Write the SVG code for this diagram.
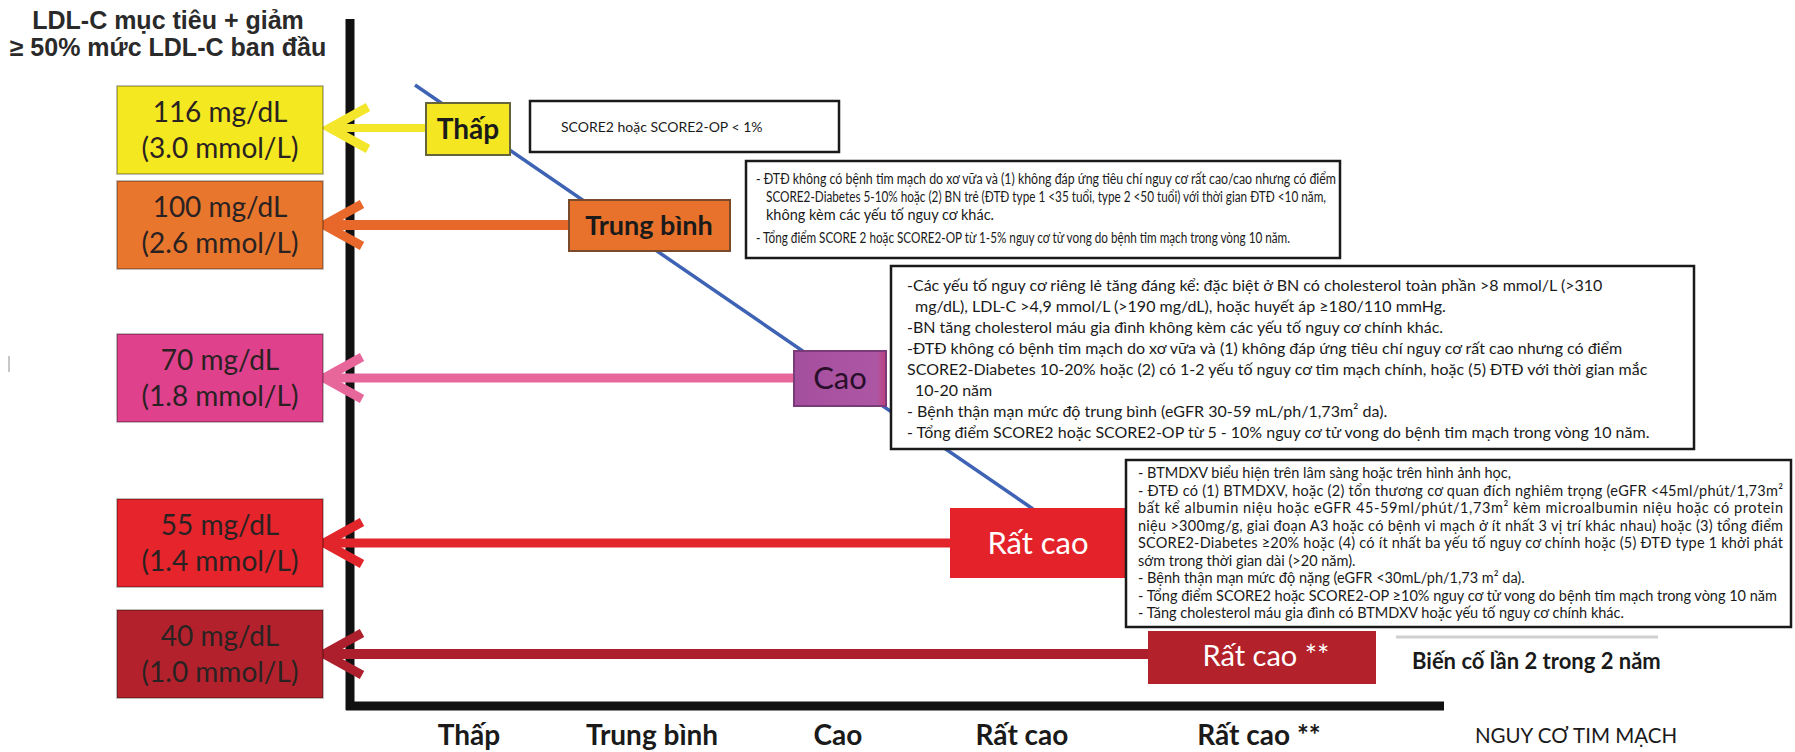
<svg xmlns="http://www.w3.org/2000/svg" xmlns:xlink="http://www.w3.org/1999/xlink" width="1795" height="752" viewBox="0 0 1795 752">
  <style>
    .title { font-family: "Liberation Sans", Arial, sans-serif; font-weight: bold; font-size: 25px; fill: #2a2a2a; text-anchor: middle; }
    .axis { stroke: #111; stroke-width: 9; fill: none; }
    .val { font-family: Lato, "Open Sans", sans-serif; font-size: 28px; fill: #2a2222; text-anchor: middle; }
    .valbox { stroke: rgba(0,0,0,0.35); stroke-width: 1.5; }
    .risk { font-family: Lato, "Open Sans", sans-serif; text-anchor: middle; }
    .desc { fill: #fff; stroke: #1a1a1a; stroke-width: 2.5; }
    .small { font-family: Lato, "Open Sans", sans-serif; fill: #1a1a1a; }
    .xlab { font-family: Lato, "Open Sans", sans-serif; font-weight: bold; font-size: 28px; fill: #1a1a1a; text-anchor: middle; }
    .head { fill: none; stroke-width: 9; stroke-linejoin: miter; }
    .shaft { fill: none; }
  </style>
  <defs>
    <path id="chev" d="M38,-21 L0,0 L38,21"/>
    <linearGradient id="caoFill" x1="0" y1="0" x2="1" y2="0">
      <stop offset="0" stop-color="#a44f9e"/>
      <stop offset="0.9" stop-color="#ad56a4"/>
      <stop offset="1" stop-color="#c0407a"/>
    </linearGradient>
  </defs>

  <rect width="1795" height="752" fill="#fff"/>

  <!-- y-axis heading -->
  <g id="heading">
    <text class="title" x="168" y="29">LDL-C mục tiêu + giảm</text>
    <text class="title" x="168" y="56">≥ 50% mức LDL-C ban đầu</text>
  </g>

  <!-- stray mark at left margin -->
  <line x1="9" y1="356" x2="9" y2="372" stroke="#c8c8c8" stroke-width="2"/>

  <!-- axes -->
  <g id="axes">
    <line class="axis" x1="350" y1="19" x2="350" y2="710"/>
    <line class="axis" x1="346" y1="706" x2="1444" y2="706"/>
  </g>

  <!-- connectors: risk trend line and arrows to LDL-C targets -->
  <g id="connectors">
    <line x1="415" y1="85" x2="1033" y2="509" stroke="#3f63b4" stroke-width="3.5"/>

    <line class="shaft" x1="334" y1="128" x2="426" y2="128" stroke="#f3e62b" stroke-width="8"/>
    <use xlink:href="#chev" class="head" transform="translate(330,128)" stroke="#f3e62b"/>

    <line class="shaft" x1="328" y1="225" x2="569" y2="225" stroke="#e8672a" stroke-width="10"/>
    <use xlink:href="#chev" class="head" transform="translate(324,225)" stroke="#e8672a"/>

    <line class="shaft" x1="328" y1="378" x2="794" y2="378" stroke="#e8679b" stroke-width="9"/>
    <use xlink:href="#chev" class="head" transform="translate(324,378)" stroke="#e8679b"/>

    <line class="shaft" x1="328" y1="543" x2="950" y2="543" stroke="#e2252b" stroke-width="9"/>
    <use xlink:href="#chev" class="head" transform="translate(324,543)" stroke="#e2252b"/>

    <line class="shaft" x1="328" y1="654" x2="1148" y2="654" stroke="#ad1f2c" stroke-width="10"/>
    <use xlink:href="#chev" class="head" transform="translate(324,654)" stroke="#ad1f2c"/>
  </g>

  <!-- LDL-C target boxes -->
  <g id="target-116">
    <rect class="valbox" x="117" y="86" width="206" height="88" fill="#f4e820" stroke="#5e5a2a"/>
    <text class="val" x="220" y="122">116 mg/dL</text>
    <text class="val" x="220" y="158">(3.0 mmol/L)</text>
  </g>
  <g id="target-100">
    <rect class="valbox" x="117" y="181" width="206" height="88" fill="#e8762d"/>
    <text class="val" x="220" y="217">100 mg/dL</text>
    <text class="val" x="220" y="253">(2.6 mmol/L)</text>
  </g>
  <g id="target-70">
    <rect class="valbox" x="117" y="334" width="206" height="88" fill="#df418d"/>
    <text class="val" x="220" y="370">70 mg/dL</text>
    <text class="val" x="220" y="406">(1.8 mmol/L)</text>
  </g>
  <g id="target-55">
    <rect class="valbox" x="117" y="499" width="206" height="88" fill="#e5242b"/>
    <text class="val" x="220" y="535">55 mg/dL</text>
    <text class="val" x="220" y="571">(1.4 mmol/L)</text>
  </g>
  <g id="target-40">
    <rect class="valbox" x="117" y="610" width="206" height="88" fill="#b3222c"/>
    <text class="val" x="220" y="646">40 mg/dL</text>
    <text class="val" x="220" y="682">(1.0 mmol/L)</text>
  </g>

  <!-- risk level nodes on the trend line -->
  <g id="risk-low">
    <rect x="426" y="103" width="84" height="52" fill="#f4e721" stroke="#66643a" stroke-width="2"/>
    <text class="risk" x="468" y="139" font-size="28" font-weight="bold" fill="#1a1a1a">Thấp</text>
  </g>
  <g id="risk-moderate">
    <rect x="569" y="200" width="161" height="51" fill="#e8722c" stroke="#7a4a2a" stroke-width="2"/>
    <text class="risk" x="649" y="235" font-size="27" font-weight="bold" fill="#1a1a1a">Trung bình</text>
  </g>
  <g id="risk-high">
    <rect x="794" y="351" width="92" height="55" fill="url(#caoFill)" stroke="#7b3a78" stroke-width="2"/>
    <text class="risk" x="840" y="389" font-size="31" fill="#2a0f2a">Cao</text>
  </g>
  <g id="risk-very-high">
    <rect x="950" y="508" width="176" height="70" fill="#e3222a"/>
    <text class="risk" x="1038" y="554" font-size="31" fill="#fff">Rất cao</text>
  </g>
  <g id="risk-extreme">
    <rect x="1148" y="631" width="228" height="53" fill="#b3212b"/>
    <text class="risk" x="1266" y="666" font-size="29" fill="#fff">Rất cao **</text>
  </g>

  <!-- criteria boxes -->
  <g id="criteria-low">
    <rect class="desc" x="530" y="101" width="309" height="51"/>
    <text class="small" x="561" y="132" font-size="14">SCORE2 hoặc SCORE2-OP &lt; 1%</text>
  </g>

  <g id="criteria-moderate">
    <rect class="desc" x="746" y="161" width="594" height="97"/>
    <g class="small" font-size="14.5">
      <text x="756" y="184" textLength="580" lengthAdjust="spacingAndGlyphs">- ĐTĐ không có bệnh tim mạch do xơ vữa và (1) không đáp ứng tiêu chí nguy cơ rất cao/cao nhưng có điểm</text>
      <text x="766" y="202" textLength="560" lengthAdjust="spacingAndGlyphs">SCORE2-Diabetes 5-10% hoặc (2) BN trẻ (ĐTĐ type 1 &lt;35 tuổi, type 2 &lt;50 tuổi) với thời gian ĐTĐ &lt;10 năm,</text>
      <text x="766" y="220">không kèm các yếu tố nguy cơ khác.</text>
      <text x="756" y="243" textLength="534" lengthAdjust="spacingAndGlyphs">- Tổng điểm SCORE 2 hoặc SCORE2-OP từ 1-5% nguy cơ tử vong do bệnh tim mạch trong vòng 10 năm.</text>
    </g>
  </g>

  <g id="criteria-high">
    <rect class="desc" x="891" y="266" width="803" height="183"/>
    <g class="small" font-size="16">
      <text x="907" y="291">-Các yếu tố nguy cơ riêng lẻ tăng đáng kể: đặc biệt ở BN có cholesterol toàn phần &gt;8 mmol/L (&gt;310</text>
      <text x="915" y="312">mg/dL), LDL-C &gt;4,9 mmol/L (&gt;190 mg/dL), hoặc huyết áp ≥180/110 mmHg.</text>
      <text x="907" y="333">-BN tăng cholesterol máu gia đình không kèm các yếu tố nguy cơ chính khác.</text>
      <text x="907" y="354">-ĐTĐ không có bệnh tim mạch do xơ vữa và (1) không đáp ứng tiêu chí nguy cơ rất cao nhưng có điểm</text>
      <text x="907" y="375">SCORE2-Diabetes 10-20% hoặc (2) có 1-2 yếu tố nguy cơ tim mạch chính, hoặc (5) ĐTĐ với thời gian mắc</text>
      <text x="915" y="396">10-20 năm</text>
      <text x="907" y="417">- Bệnh thận mạn mức độ trung bình (eGFR 30-59 mL/ph/1,73m² da).</text>
      <text x="907" y="438">- Tổng điểm SCORE2 hoặc SCORE2-OP  từ 5 - 10% nguy cơ tử vong do bệnh tim mạch trong vòng 10 năm.</text>
    </g>
  </g>

  <g id="criteria-very-high">
    <rect class="desc" x="1126" y="460" width="665" height="167"/>
    <g class="small" font-size="14.5">
      <text x="1138" y="478">- BTMDXV biểu hiện trên lâm sàng hoặc trên hình ảnh học,</text>
      <text x="1138" y="495.5" textLength="645" lengthAdjust="spacing">- ĐTĐ có (1) BTMDXV, hoặc (2) tổn thương cơ quan đích nghiêm trọng (eGFR &lt;45ml/phút/1,73m²</text>
      <text x="1138" y="513" textLength="645" lengthAdjust="spacing">bất kể albumin niệu hoặc eGFR 45-59ml/phút/1,73m² kèm microalbumin niệu hoặc có protein</text>
      <text x="1138" y="530.5" textLength="645" lengthAdjust="spacing">niệu &gt;300mg/g, giai đoạn A3 hoặc có bệnh vi mạch ở ít nhất 3 vị trí khác nhau) hoặc (3) tổng điểm</text>
      <text x="1138" y="548" textLength="645" lengthAdjust="spacing">SCORE2-Diabetes ≥20% hoặc (4) có ít nhất ba yếu tố nguy cơ chính hoặc (5) ĐTĐ type 1 khởi phát</text>
      <text x="1138" y="565.5">sớm trong thời gian dài (&gt;20 năm).</text>
      <text x="1138" y="583">- Bệnh thận mạn mức độ nặng (eGFR &lt;30mL/ph/1,73 m² da).</text>
      <text x="1138" y="600.5">- Tổng điểm SCORE2 hoặc SCORE2-OP ≥10% nguy cơ tử vong do bệnh tim mạch trong vòng 10 năm</text>
      <text x="1138" y="618">- Tăng cholesterol máu gia đình có BTMDXV hoặc yếu tố nguy cơ chính khác.</text>
    </g>
  </g>

  <g id="criteria-extreme">
    <line x1="1396" y1="637" x2="1658" y2="637" stroke="#cfcfcf" stroke-width="3"/>
    <text class="small" x="1412" y="669" font-size="22" font-weight="bold">Biến cố lần 2 trong 2 năm</text>
  </g>

  <!-- x-axis labels -->
  <g id="x-labels">
    <text class="xlab" x="469" y="745">Thấp</text>
    <text class="xlab" x="652" y="745">Trung bình</text>
    <text class="xlab" x="838" y="745">Cao</text>
    <text class="xlab" x="1022" y="745">Rất cao</text>
    <text class="xlab" x="1259" y="745">Rất cao **</text>
    <text class="small" x="1576" y="743" font-size="20.5" text-anchor="middle">NGUY CƠ TIM MẠCH</text>
  </g>
</svg>
